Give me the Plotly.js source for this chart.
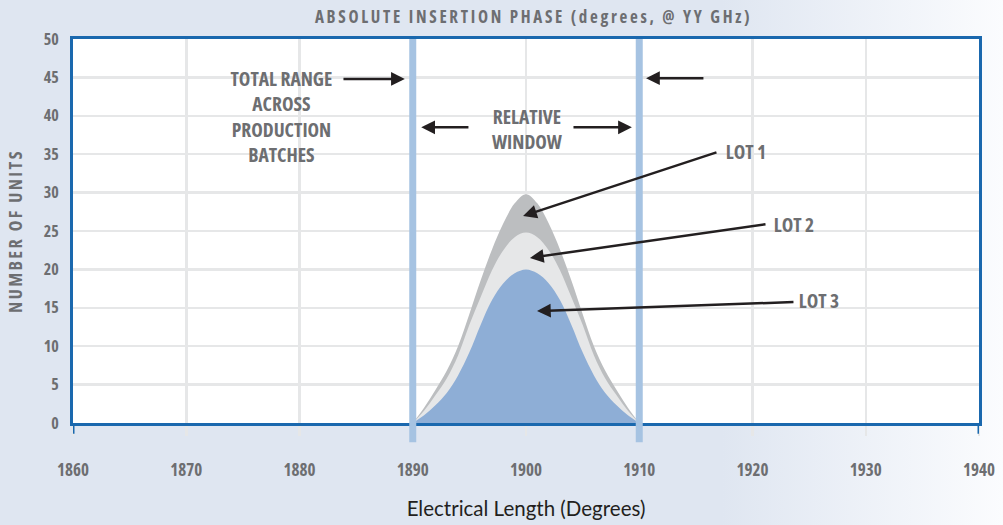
<!DOCTYPE html>
<html>
<head>
<meta charset="utf-8">
<script src="https://cdn.plot.ly/plotly-3.0.1.min.js"></script>
<style>
  html, body { margin: 0; padding: 0; }
  body { width: 1003px; height: 525px; overflow: hidden;
         background: linear-gradient(to right, #dfe6f1 0%, #dfe6f1 72%, #fbfcfe 100%); }
  #chart { width: 1003px; height: 525px; }
  #chart svg text { font-stretch: 75%; }
  #chart svg .annotation-text { font-stretch: 80%; }
  #chart svg .xtitle { font-stretch: 100%; }
  #chart svg .gtitle { letter-spacing: 2.7px; }
  #chart svg .ytitle { letter-spacing: 2.4px; }
</style>
</head>
<body>
<div id="chart"></div>
<script>
// Data
const lengths = [1890,1891,1892,1893,1894,1895,1896,1897,1898,1899,1900,1901,1902,1903,1904,1905,1906,1907,1908,1909,1910];
const lot1 = [0,2.0,4.3,6.8,10.0,14.2,18.6,22.6,26.0,28.6,29.8,28.6,26.0,22.6,18.6,14.2,10.0,6.8,4.3,2.0,0];
const lot2 = [0,1.6,3.6,5.8,8.8,12.8,16.4,19.9,22.5,24.2,24.8,24.2,22.5,19.9,16.4,12.8,8.8,5.8,3.6,1.6,0];
const lot3 = [0,1.0,2.3,3.9,6.2,9.2,12.8,16.0,18.2,19.5,20,19.5,18.2,16.0,12.8,9.2,6.2,3.9,2.3,1.0,0];
const seriesNames = ['LOT 1','LOT 2','LOT 3'];
const seriesColors = ['#bcbec0','#e6e7e8','#8eaed6'];
const xTicks = [1860,1870,1880,1890,1900,1910,1920,1930,1940];
const yTicks = [0,5,10,15,20,25,30,35,40,45,50];
const windowEdges = [1890,1910];

const condensed = '"Open Sans", Roboto, sans-serif';
const grey = '#6d6e71';
const axisBlue = '#1a68ae';

const traces = [lot1, lot2, lot3].map((ys, i) => ({
  x: lengths, y: ys, type: 'scatter', mode: 'lines', name: seriesNames[i],
  fill: 'tozeroy', fillcolor: seriesColors[i],
  line: {shape: 'spline', smoothing: 1, width: 0, color: seriesColors[i]},
  hoverinfo: 'skip', showlegend: false
}));

const shapes = windowEdges.map(x => ({
  type: 'line', xref: 'x', yref: 'paper', x0: x, x1: x, y0: -0.05, y1: 1,
  line: {color: '#a6c3e2', width: 7}, layer: 'above'
}));
[1860, 1940].forEach(x => shapes.push({
  type: 'line', xref: 'x', yref: 'paper', x0: x, x1: x, y0: -0.028, y1: 0,
  line: {color: axisBlue, width: 3}, layer: 'above'
}));

const textFont = {family: condensed, size: 19.5, color: grey, weight: 'bold'};
function label(x, y, text, xanchor) {
  return {x: x, y: y, xref: 'x', yref: 'y', text: text, xanchor: xanchor || 'center',
          showarrow: false, font: textFont, align: 'center'};
}
function arrow(x0, y0, x1, y1) {
  return {x: x1, y: y1, ax: x0, ay: y0, xref: 'x', yref: 'y', axref: 'x', ayref: 'y',
          text: '', showarrow: true, arrowhead: 2, arrowsize: 1.1, arrowwidth: 2.5, arrowcolor: '#231f20', standoff: 0};
}
const annotations = [
  label(1878.4, 39.85, 'TOTAL RANGE<br>ACROSS<br>PRODUCTION<br>BATCHES'),
  label(1900.1, 38.3, 'RELATIVE<br>WINDOW'),
  label(1916.9, 35.4, 'LOT 1', 'left'),
  label(1921.1, 25.9, 'LOT 2', 'left'),
  label(1923.3, 15.9, 'LOT 3', 'left'),
  arrow(1883.75, 44.8, 1889.3, 44.8),
  arrow(1915.8, 44.9, 1910.6, 44.9),
  arrow(1895.05, 38.5, 1890.75, 38.5),
  arrow(1904.06, 38.5, 1909.35, 38.5),
  arrow(1916.95, 35.3, 1899.74, 26.95),
  arrow(1921.28, 25.9, 1900.35, 21.5),
  arrow(1923.75, 15.75, 1900.97, 14.58)
];

const layout = {
  width: 1003, height: 525,
  margin: {l: 73, r: 24, t: 39, b: 102},
  paper_bgcolor: 'rgba(0,0,0,0)', plot_bgcolor: '#ffffff',
  title: {text: 'ABSOLUTE INSERTION PHASE (degrees, @ YY GHz)', x: 0.532, xanchor: 'center',
          y: 0.967, yanchor: 'middle', font: {family: condensed, size: 17, color: grey, weight: 'bold'}},
  xaxis: {range: [1860, 1940], tickvals: xTicks, ticktext: xTicks.map(String),
          showgrid: true, gridcolor: '#e6e7e8', gridwidth: 2.5,
          ticks: 'outside', ticklen: 10, tickwidth: 2.5, tickcolor: '#e6e7e8',
          ticklabelstandoff: 20,
          showline: true, linecolor: axisBlue, linewidth: 3, mirror: true, zeroline: false,
          tickfont: {family: condensed, size: 17, color: grey, weight: 'bold'},
          title: {text: 'Electrical Length (Degrees)', standoff: 22,
                  font: {family: 'Lato, "Open Sans", sans-serif', size: 20.5, color: '#231f20'}}},
  yaxis: {range: [0, 50], tickvals: yTicks, ticktext: yTicks.map(String),
          showgrid: true, gridcolor: '#e6e7e8', gridwidth: 2.5,
          ticks: '', ticklabelstandoff: 8,
          showline: true, linecolor: axisBlue, linewidth: 3, mirror: true, zeroline: false,
          tickfont: {family: condensed, size: 16, color: grey, weight: 'bold'},
          title: {text: 'NUMBER OF UNITS', standoff: 14,
                  font: {family: condensed, size: 18, color: grey, weight: 'bold'}}},
  shapes: shapes,
  annotations: annotations
};

Plotly.newPlot('chart', traces, layout, {displayModeBar: false, staticPlot: true});
</script>
</body>
</html>
